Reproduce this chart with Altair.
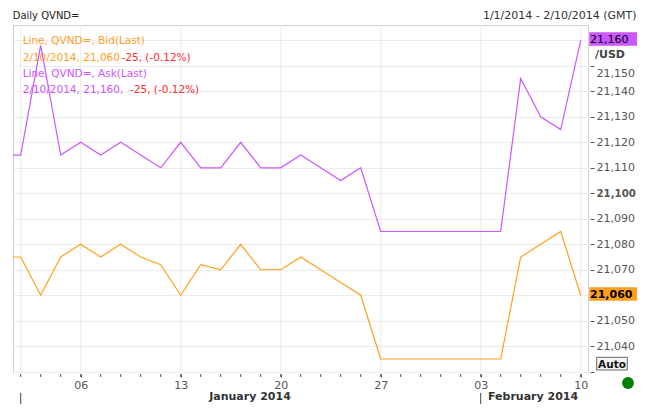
import altair as alt
import pandas as pd

# ---------------- data ----------------
dates = ["2013-12-31",
         "2014-01-01", "2014-01-02", "2014-01-03",
         "2014-01-06", "2014-01-07", "2014-01-08", "2014-01-09", "2014-01-10",
         "2014-01-13", "2014-01-14", "2014-01-15", "2014-01-16", "2014-01-17",
         "2014-01-20", "2014-01-21", "2014-01-22", "2014-01-23", "2014-01-24",
         "2014-01-27", "2014-01-28", "2014-01-29", "2014-01-30", "2014-01-31",
         "2014-02-03", "2014-02-04", "2014-02-05", "2014-02-06", "2014-02-07",
         "2014-02-10"]
bid = [21075,
       21075, 21060, 21075,
       21080, 21075, 21080, 21075, 21072,
       21060, 21072, 21070, 21080, 21070,
       21070, 21075, 21070, 21065, 21060,
       21035, 21035, 21035, 21035, 21035,
       21035, 21035, 21075, 21080, 21085,
       21060]
ask = [21115,
       21115, 21158, 21115,
       21120, 21115, 21120, 21115, 21110,
       21120, 21110, 21110, 21120, 21110,
       21110, 21115, 21110, 21105, 21110,
       21085, 21085, 21085, 21085, 21085,
       21085, 21085, 21145, 21130, 21125,
       21160]
y_ticks = list(range(21030, 21161, 10))
grid_days = ["2014-01-01", "2014-01-06", "2014-01-13", "2014-01-20",
             "2014-01-27", "2014-02-03", "2014-02-10"]
months = ["January 2014", "February 2014"]
month_starts = ["2014-01-01", "2014-02-03"]
title_left = "Daily QVND="
title_right = "1/1/2014 - 2/10/2014 (GMT)"
legend_bid = ["Line, QVND=, Bid(Last)", "2/10/2014, 21,060", "-25, (-0.12%)"]
legend_ask = ["Line, QVND=, Ask(Last)", "2/10/2014, 21,160, ", "-25, (-0.12%)"]
unit = "/USD"

# ---------------- styling ----------------
ORANGE = "#FF9F1C"
PURPLE = "#CC55FF"
RED = "#FF2A2A"
TAG_ORANGE = "#FF9900"
TAG_PURPLE = "#CC44FF"
GRID = "#EBEBEB"
AXIS = "#555555"
FONT = "DejaVu Sans"
W, H = 575, 347
PAD_L, PAD_T, PAD_R, PAD_B = 5, 17, 49, 32     # total 629 x 396 (page is 645 x 414 with 8px margins)
ORIGIN_X, ORIGIN_Y = 8 + PAD_L, 8 + PAD_T       # page position of plot origin


def px(x):
    return x - ORIGIN_X


def py(y):
    return y - ORIGIN_Y


# business-day index (Dec 31 = -1, Jan 1 = 0 ...)
idx = list(range(-1, len(dates) - 1))
pos = dict(zip(dates, idx))
df = pd.DataFrame({"i": idx, "date": dates, "bid": bid, "ask": ask})
long = df.melt(id_vars=["i", "date"], value_vars=["bid", "ask"],
               var_name="series", value_name="value")

dt = pd.to_datetime(pd.Series(dates))
all_days = [i for i in idx if i >= 0]
day_lab = ["%02d" % d.day if (d.weekday() == 0 and i >= 3) else ""
           for d, i in zip(dt, idx) if i >= 0]
lab_vals = [i for i, s in zip(all_days, day_lab) if s]
label_expr = "[" + ",".join("'%s'" % s for s in day_lab) + "][datum.value]"

x_scale = alt.Scale(domain=[-0.385, 28.365], nice=False, zero=False)
y_scale = alt.Scale(domain=[21029.9, 21166], nice=False, zero=False)

hidden = [21030, bid[-1], ask[-1]]   # covered by the tags / Auto box
hide_test = " || ".join("datum.value == %d" % v for v in hidden)

x_axis = alt.Axis(values=lab_vals, labelExpr=label_expr, tickSize=3, offset=2,
                  tickColor=AXIS, labelColor=AXIS, labelFont=FONT, labelFontSize=11,
                  labelPadding=2, domain=False, grid=False, title=None,
                  labelOverlap=False, labelFlush=False)
y_axis = alt.Axis(orient="right", values=y_ticks, tickSize=4, offset=2,
                  tickColor=AXIS, labelColor=AXIS, labelFont=FONT,
                  labelPadding=2, domain=False, grid=True, gridColor=GRID,
                  title=None, labelOverlap=False, labelFlush=False, labelBound=False,
                  labelExpr="(" + hide_test + ") ? '' : format(datum.value, ',')",
                  labelFontSize=alt.condition("datum.value == 21100", alt.value(10.2), alt.value(11)),
                  labelFontWeight=alt.condition("datum.value == 21100", alt.value("bold"), alt.value("normal")),
                  labelOffset=alt.condition("datum.value == 21150", alt.value(8), alt.value(0)))

X = alt.X("i:Q", scale=x_scale, axis=x_axis)
Y = alt.Y("value:Q", scale=y_scale, axis=y_axis)

# vertical grid
vgrid = alt.Chart(pd.DataFrame({"i": [pos[d] for d in grid_days]})).mark_rule(
    color=GRID, strokeWidth=1).encode(x=X)

# daily minor ticks under the plot
minor = alt.Chart(pd.DataFrame({"i": all_days})).mark_rule(
    color=AXIS, strokeWidth=1).encode(x=X, y=alt.value(H + 2), y2=alt.value(H + 5))


def txt(s, x, y, color, size=10.5, weight="normal", align="left"):
    return alt.Chart(pd.DataFrame({"t": [s]})).mark_text(
        align=align, baseline="alphabetic", font=FONT, fontSize=size,
        fontWeight=weight, color=color).encode(
        x=alt.value(px(x)), y=alt.value(py(y)), text="t:N")


legend = [
    txt(legend_bid[0], 22.7, 44, ORANGE),
    txt(legend_bid[1], 22.7, 60.5, ORANGE),
    txt(legend_bid[2], 121.5, 60.5, RED),
    txt(legend_ask[0], 22.7, 76.7, PURPLE),
    txt(legend_ask[1], 22.7, 93, PURPLE),
    txt(legend_ask[2], 130, 93, RED),
]

lines = alt.Chart(long).mark_line(strokeWidth=1.2, clip=True).encode(
    x=X, y=Y,
    color=alt.Color("series:N", scale=alt.Scale(domain=["bid", "ask"], range=[ORANGE, PURPLE]),
                    legend=None),
    order="i:Q",
)

tags_df = pd.DataFrame({"value": [ask[-1], bid[-1]],
                        "label": [f"{ask[-1]:,}", f"{bid[-1]:,}"],
                        "series": ["ask", "bid"]})
tag_rect = alt.Chart(tags_df).mark_rect(yOffset=-8, y2Offset=5.5).encode(
    y=Y, y2="value:Q",
    x=alt.value(px(589.3)), x2=alt.value(px(637)),
    color=alt.Color("series:N", scale=alt.Scale(domain=["bid", "ask"], range=[TAG_ORANGE, TAG_PURPLE]),
                    legend=None))
tag_txt_ask = alt.Chart(tags_df[tags_df.series == "ask"]).mark_text(
    align="left", baseline="alphabetic", dy=3, font=FONT, fontSize=11, color="#000").encode(
    y=Y, x=alt.value(px(590)), text="label:N")
tag_txt_bid = alt.Chart(tags_df[tags_df.series == "bid"]).mark_text(
    align="left", baseline="alphabetic", dy=3, font=FONT, fontSize=11, fontWeight="bold",
    color="#000").encode(
    y=Y, x=alt.value(px(590)), text="label:N")

auto_box = alt.Chart(pd.DataFrame({"a": [0]})).mark_rect(
    fill="#F4F4F4", stroke="#666666", strokeWidth=1).encode(
    x=alt.value(px(596.7)), x2=alt.value(px(627.3)), y=alt.value(py(357.3)), y2=alt.value(py(370)))
auto_txt = txt("Auto", 612, 368.3, "#111111", size=10.5, weight="bold", align="center")

dot = alt.Chart(pd.DataFrame({"a": [0]})).mark_point(
    filled=True, shape="circle", size=140, color="#008000", opacity=1).encode(
    x=alt.value(px(628)), y=alt.value(py(383)))

month_bars = alt.Chart(pd.DataFrame({"i": [pos[d] for d in month_starts]})).mark_rule(
    color="#444444", strokeWidth=1).encode(
    x=X, y=alt.value(py(393)), y2=alt.value(py(404)))
month_txt = [
    txt(months[0], 250, 400, "#333333", size=11, weight="bold", align="center"),
    txt(months[1], 488, 400, "#333333", size=11, weight="bold", align="left"),
]

header = [
    txt(title_left, 12.7, 19, "#222222", size=10),
    txt(title_right, 636.5, 19, "#333333", size=11, align="right"),
    txt(unit, 595, 58.3, "#444444", size=11, weight="bold"),
]

chart = alt.layer(
    vgrid, minor, *legend, lines, tag_rect, tag_txt_ask, tag_txt_bid,
    auto_box, auto_txt, dot, month_bars, *month_txt, *header
).properties(
    width=W, height=H,
    padding={"left": PAD_L, "top": PAD_T, "right": PAD_R, "bottom": PAD_B},
    autosize=alt.AutoSizeParams(type="none"),
    background="white",
).configure_view(stroke="#CFCFCF", strokeWidth=1).configure_axis(labelOverlap=False)

chart.save("out.html", embed_options={"renderer": "svg", "actions": False})
